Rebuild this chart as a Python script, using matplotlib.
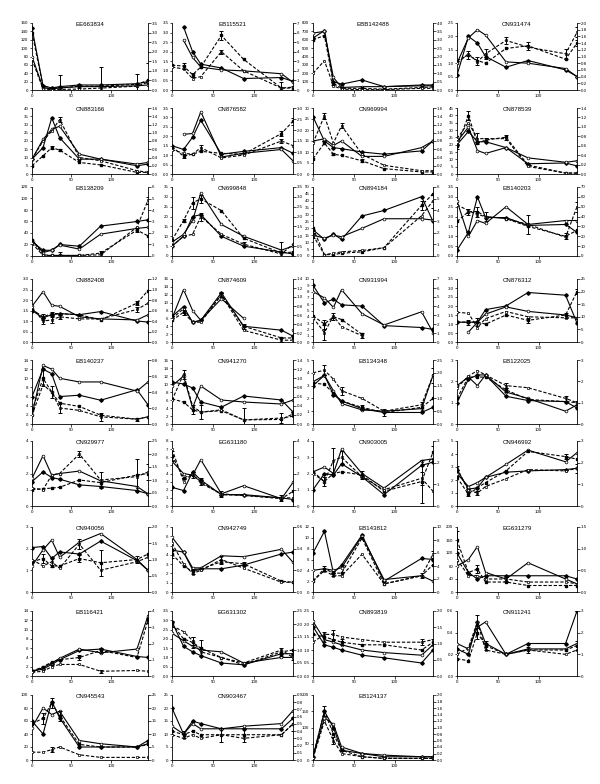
import numpy as np
import matplotlib.pyplot as plt

plt.rcParams['font.family'] = ['Liberation Sans', 'DejaVu Sans']

days = [0, 14, 25, 35, 60, 87, 133, 147]

names = ['EE663834', 'EB115521', 'EBB142488', 'CN931474',
         'CN883166', 'CN876582', 'CN969994', 'CN878539',
         'EB138209', 'CN699848', 'CN894184', 'EB140203',
         'CN882408', 'CN874609', 'CN931994', 'CN876312',
         'EB140237', 'CN941270', 'EB134348', 'EB122025',
         'CN929977', 'EG631180', 'CN903005', 'CN946992',
         'CN940056', 'CN942749', 'EB143812', 'EG631279',
         'EB116421', 'EG631302', 'CN893819', 'CN911241',
         'CN945543', 'CN903467', 'EB124137']

# left axis (solid lines) and right axis (dashed lines) ranges
left_top = [160, 3.5, 800, 2.5, 40, 3.5, 30, 45, 120, 35, 50, 3.5, 3.0, 16, 10, 3.5,
            14, 16, 5, 3, 4, 8, 4, 5, 3, 7, 12, 200, 14, 3.5, 2.5, 0.6, 100, 25, 200]
left_step = [20, 0.5, 100, 0.5, 5, 0.5, 5, 5, 20, 5, 5, 0.5, 0.5, 2, 1, 0.5,
             2, 2, 1, 1, 1, 1, 1, 1, 1, 1, 2, 40, 2, 0.5, 0.5, 0.2, 20, 5, 50]
right_top = [3.5, 7, 4.0, 2.0, 1.6, 3.0, 1.6, 1.4, 6, 3.5, 6, 70, 1.2, 1.4, 7, 25,
             0.8, 1.4, 2.5, 3, 2.5, 4, 3, 3, 2.0, 0.6, 10, 1.5, 4, 2.5, 2.0, 3, 25, 0.9, 2.0]
right_step = [0.5, 1, 0.5, 0.2, 0.2, 0.5, 0.2, 0.2, 1, 0.5, 1, 10, 0.2, 0.2, 1, 5,
              0.2, 0.2, 0.5, 1, 0.5, 1, 1, 1, 0.5, 0.2, 2, 0.5, 1, 0.5, 0.5, 1, 5, 0.1, 0.2]

N = None
solid_filled = [
    [148, 10, 5, 8, 12, 12, 15, 20],
    [N, 3.3, 2.0, 1.35, 1.15, 0.6, 0.65, 0.45],
    [620, 710, 100, 70, 120, 40, 60, 60],
    [0.55, 2.0, 1.75, 1.25, 0.85, 1.1, 0.75, 0.5],
    [9, 16, 34, 22, 9, 9, 5, 6],
    [1.5, 1.3, 1.95, 2.85, 1.05, 1.2, 1.4, 1.1],
    [26, 15, 12, 11.5, 10, 9, 10.5, 15],
    [20, 29, 22, 22, 18, 7, 7.5, 5.5],
    [25, 10, 10, 20, 17, 52, 60, 63],
    [5, 10, 20, 21, 10, 5, 2, 1],
    [19, 12, 16, 12, 29, 33, 43, 25],
    [0.3, 1.2, 3.0, 1.95, 1.95, 1.55, 1.6, 1.2],
    [1.5, 1.15, 1.3, 1.35, 1.3, 1.45, 1.0, 0.95],
    [6.5, 9, 5, 5.5, 12.5, 4, 3, 1.5],
    [9, 6.2, 6.8, 5.9, 5.7, 2.6, 2.3, 2.0],
    [1.1, 1.1, 1.1, 1.8, 2.0, 2.75, 2.6, 1.05],
    [6, 12, 11, 6, 6.3, 5.2, 7.5, 4.2],
    [10.5, 10, 9, 5.5, 4.2, 7, 6, 3],
    [3.0, 3.8, 2.3, 1.8, 1.2, 0.9, 0.9, 1.3],
    [1.0, 2.1, 2.3, 2.3, 1.3, 1.1, 1.05, 0.75],
    [1.5, 2.1, 1.75, 1.65, 1.3, 1.2, 0.95, 0.75],
    [2.3, 1.9, 4.2, 3.2, 1.4, 1.4, 1.0, 0.8],
    [1.0, 2.0, 1.9, 2.6, 1.8, 0.7, 2.5, 2.7],
    [2.8, 1.3, 1.4, 2.2, 2.6, 2.7, 2.8, 2.9],
    [2.05, 2.1, 1.55, 1.85, 1.75, 2.35, 1.45, 1.0],
    [4.5, 4.3, 2.4, 2.5, 2.5, 2.9, 4.1, 4.3],
    [7.2, 11.2, 3.5, 5.0, 10.5, 2.0, 6.2, 6.0],
    [120, 60, 40, 50, 50, 50, 50, 40],
    [1, 1.5, 2.5, 3.5, 5.5, 5.8, 4.2, 4.0],
    [2.9, 1.6, 1.3, 1.1, 0.7, 0.6, 1.2, 1.2],
    [1.9, 1.2, 1.1, 1.0, 0.8, 0.7, 0.5, 1.0],
    [0.25, 0.2, 0.5, 0.3, 0.2, 0.3, 0.3, 0.6],
    [60, 40, 90, 65, 20, 20, 20, 30],
    [20, 10, 15, 14, 12, 12, 12, 16],
    [10, 150, 100, 30, 20, 10, 10, 10],
]
solid_open = [
    [80, 5, 3, 5, 8, 8, 10, 12],
    [N, 2.6, 1.7, 1.2, 1.05, 1.0, 0.85, 0.4],
    [680, 700, 150, 30, 40, 40, 50, 50],
    [1.0, 1.95, 2.25, 2.05, 1.05, 1.0, 0.8, 0.5],
    [9, 21, 27, 29, 12, 9, 6, 7],
    [N, 2.1, 2.15, 3.3, 0.9, 1.1, 1.3, 0.7],
    [15, 16, 13, 15, 8, 8, 12, 15],
    [22, 32, 16, 14, 18, 11, 8, 9],
    [28, 6, 10, 19, 12, 38, 48, 50],
    [7, 11, 18, 32, 16, 10, 3, 5],
    [15, 13, 15, 14, 20, 27, 27, 26],
    [2.8, 1.0, 1.8, 1.65, 2.5, 1.6, 1.8, 1.8],
    [1.7, 2.4, 1.75, 1.7, 1.2, 1.1, 1.05, 1.3],
    [6, 13.3, 8, 5.5, 11, 6, N, 3],
    [8, 7, 5.5, 8.3, 4.5, 2.7, 4.8, 1.5],
    [N, 0.55, 1.1, 1.55, 1.95, 1.7, 1.5, 1.35],
    [2, 12.8, 12, 10, 9.2, 9.2, 7.2, 9.2],
    [9.5, 12, 4, 9.5, 6, 5.5, 5, 6],
    [3.3, 3.8, 2.6, 1.6, 1.1, 1.0, 1.2, 3.8],
    [1.8, 2.2, 1.8, 2.3, 1.5, 1.2, 0.6, 0.9],
    [1.7, 3.1, 1.9, 2.0, 2.15, 1.55, 1.2, 0.75],
    [5.5, 4.0, 3.8, 5.7, 1.5, 2.5, 0.9, 2.9],
    [2.1, 2.4, 2.0, 3.5, 2.0, 1.1, 2.8, 2.9],
    [2.5, 1.5, 1.8, 2.2, 3.2, 4.3, 3.4, 4.1],
    [1.2, 1.95, 2.4, 1.6, 2.3, 2.7, 1.5, 1.0],
    [5.9, 4.3, 2.6, 2.6, 3.9, 3.8, 4.6, 3.2],
    [4.0, 4.3, 4.0, 4.5, 10.3, 2.3, 3.0, 2.0],
    [80, 100, 140, 60, 40, 90, 40, 25],
    [1, 1.8, 2.8, 3.8, 5.8, 5.0, 5.8, 13],
    [2.3, 1.9, 1.6, 1.4, 1.3, 0.7, 1.0, 1.0],
    [2.1, 1.4, 1.3, 1.2, 1.0, 0.9, 0.8, 1.2],
    [0.3, 0.25, 0.45, 0.5, 0.2, 0.25, 0.25, 0.3],
    [50, 80, 70, 75, 30, 25, 20, 25],
    [13, 10, 14, 12, 12, 13, 14, 19],
    [10, 130, 110, 40, 20, 15, 10, 10],
]
dashed_filled = [
    [3.0, 0.2, 0.1, 0.1, 0.2, 0.2, 0.3, 0.5],
    [2.6, 2.5, 1.6, 2.4, 5.7, 3.2, 0.2, 0.2],
    [3.0, 3.25, 0.4, 0.1, 0.1, 0.05, 0.15, 0.18],
    [0.88, 1.04, 0.88, 0.8, 1.24, 1.32, 0.92, 1.4],
    [0.2, 0.44, 0.64, 0.58, 0.28, 0.22, 0.04, 0.04],
    [1.24, 0.81, 0.9, 1.03, 0.94, 0.9, 1.84, 2.4],
    [0.37, 0.75, 0.48, 0.45, 0.32, 0.13, 0.05, 0.05],
    [0.59, 1.24, 0.65, 0.72, 0.78, 0.19, 0.02, 0.02],
    [1.4, 0.1, 0.05, 0.05, 0.05, 0.25, 2.25, 1.75],
    [0.8, 1.8, 2.7, 2.9, 2.3, 0.9, 0.15, 0.2],
    [2.4, 0.12, 0.12, 0.24, 0.36, 0.72, 4.4, 5.4],
    [35, 45, 45, 40, 38, 30, 20, 26],
    [0.62, 0.48, 0.54, 0.54, 0.52, 0.42, 0.74, 0.98],
    [0.48, 0.66, 0.44, 0.48, 1.05, 0.35, 0.09, 0.09],
    [2.9, 2.0, 2.8, 2.5, 0.85, N, N, N],
    [7.9, 7.9, 7.9, 7.1, 10.7, 8.6, 10.7, 20],
    [0.17, 0.57, 0.4, 0.26, 0.22, 0.11, 0.06, 0.09],
    [0.55, 0.48, 0.31, 0.26, 0.29, 0.09, 0.1, 0.22],
    [1.6, 1.55, 1.2, 0.9, 0.65, 0.45, 0.65, 1.0],
    [1.2, 2.2, 2.2, 2.2, 1.6, 1.15, 1.05, 1.0],
    [0.63, 0.66, 0.69, 0.72, 1.0, 0.9, 1.19, 1.25],
    [3.1, 1.75, 1.9, 1.5, 0.7, 0.65, 0.45, 0.9],
    [1.58, 1.13, 1.5, 1.58, 1.43, 0.68, 1.13, 2.48],
    [1.32, 0.54, 0.84, 1.08, 1.62, 2.52, 2.28, 2.16],
    [0.93, 1.03, 0.8, 0.8, 1.03, 0.9, 1.0, 1.17],
    [0.35, 0.24, 0.19, 0.21, 0.28, 0.26, 0.1, 0.09],
    [1.7, 3.6, 2.9, 2.9, 8.3, 1.25, 2.5, 4.2],
    [1.2, 0.45, 0.53, 0.23, 0.23, 0.15, 0.15, 0.15],
    [0.29, 0.57, 0.86, 1.0, 1.14, 1.57, 1.14, 3.43],
    [2.0, 1.43, 1.29, 1.07, 0.71, 0.43, 0.93, 1.0],
    [1.28, 1.2, 1.12, 1.04, 0.96, 0.96, 0.8, 1.04],
    [0.8, 0.7, 2.0, 1.4, 1.0, 1.2, 1.2, 1.4],
    [14, 16, 22, 17, 6, 5, 5, 6],
    [0.4, 0.35, 0.4, 0.35, 0.35, 0.35, 0.35, 0.5],
    [0.1, 1.5, 0.8, 0.3, 0.1, 0.05, 0.05, 0.05],
]
dashed_open = [
    [1.6, 0.05, 0.02, 0.03, 0.05, 0.1, 0.2, 0.4],
    [2.4, 2.2, 1.2, 1.4, 4.0, 2.0, 0.2, 0.3],
    [1.0, 1.75, 0.25, 0.05, 0.02, 0.02, 0.1, 0.1],
    [0.8, 1.08, 0.84, 1.08, 1.48, 1.28, 1.08, 1.72],
    [0.36, 0.8, 1.04, 1.32, 0.4, 0.32, 0.08, 0.04],
    [1.11, 0.94, 0.9, 1.2, 0.73, 0.86, 1.5, 1.29],
    [0.75, 1.41, 0.75, 1.17, 0.48, 0.21, 0.08, 0.08],
    [0.75, 1.09, 0.75, 0.75, 0.75, 0.16, 0.02, 0.02],
    [1.1, 0.05, 0.05, 0.05, 0.05, 0.1, 2.5, 4.85],
    [0.5, 1.0, 1.1, 2.0, 1.1, 0.6, 0.1, 0.6],
    [1.8, 0.12, 0.24, 0.36, 0.48, 0.72, 3.5, 4.8],
    [52, 46, 42, 40, 38, 32, 19, 50],
    [0.66, 0.4, 0.42, 0.48, 0.44, 0.44, 0.62, 0.74],
    [0.52, 0.74, 0.44, 0.44, 1.05, 0.26, 0.04, 0.04],
    [2.7, 1.05, 2.9, 1.7, 0.7, N, N, N],
    [11.8, 11.4, 5.7, 9.3, 12.1, 10, 9.6, 9.6],
    [0.11, 0.49, 0.4, 0.2, 0.17, 0.09, 0.06, 0.09],
    [0.52, 1.09, 0.39, 0.26, 0.31, 0.09, 0.13, 0.17],
    [2.0, 2.1, 1.75, 1.3, 1.0, 0.5, 0.75, 1.9],
    [1.7, 2.25, 2.5, 2.3, 1.8, 1.7, 1.2, 1.0],
    [0.69, 0.63, 1.19, 1.25, 2.0, 1.0, 1.13, 1.31],
    [3.5, 1.5, 2.0, 1.4, 0.75, 0.65, 0.5, 0.5],
    [1.5, 1.13, 2.1, 2.25, 1.35, 0.75, 1.28, 0.68],
    [1.74, 0.72, 0.6, 0.9, 1.26, 1.68, 1.62, 1.74],
    [1.0, 0.8, 0.93, 0.73, 1.47, 0.67, 0.93, 1.07],
    [0.45, 0.26, 0.17, 0.2, 0.3, 0.22, 0.09, 0.09],
    [1.7, 3.3, 2.5, 2.5, 5.8, 1.25, 2.5, 5.8],
    [0.75, 0.38, 0.38, 0.3, 0.3, 0.23, 0.23, 0.19],
    [0.23, 0.29, 0.57, 0.71, 0.71, 0.29, 0.34, 0.29],
    [1.93, 1.71, 1.36, 0.93, 0.71, 0.5, 1.0, 0.71],
    [1.04, 1.28, 1.28, 1.2, 1.12, 1.04, 1.04, 1.12],
    [1.0, 1.3, 2.5, 1.2, 1.0, 1.2, 1.0, 1.2],
    [3, 3, 4, 5, 2, 1, 1, 1],
    [0.35, 0.3, 0.35, 0.3, 0.35, 0.3, 0.35, 0.5],
    [0.05, 1.2, 0.6, 0.2, 0.1, 0.05, 0.05, 0.05],
]
# (series: 0 = dashed filled, 1 = dashed open, point index, error) per panel
error_bars = [
    [(1, 3, 0.75), (1, 5, 1.1), (1, 6, 0.65), (0, 7, 0.9), (0, 4, 0.1)],
    [(0, 1, 0.3), (0, 2, 0.2), (0, 4, 0.5), (1, 4, 0.2), (1, 6, 0.6), (0, 7, 0.2)],
    [(0, 2, 0.1)],
    [(0, 1, 0.12), (0, 2, 0.12), (1, 3, 0.15), (1, 4, 0.1), (0, 5, 0.12), (1, 6, 0.15), (1, 7, 0.15), (0, 7, 0.1)],
    [(1, 3, 0.06), (0, 2, 0.03), (0, 3, 0.03)],
    [(0, 1, 0.1), (1, 3, 0.1), (0, 6, 0.1), (0, 7, 0.15), (1, 6, 0.1)],
    [(1, 1, 0.08), (1, 3, 0.06), (0, 2, 0.03), (0, 4, 0.04)],
    [(0, 1, 0.1), (1, 2, 0.12), (0, 3, 0.04), (0, 4, 0.05), (0, 0, 0.05)],
    [(1, 3, 0.3), (1, 5, 0.3), (0, 6, 0.2), (1, 7, 0.3)],
    [(0, 2, 0.3), (0, 3, 0.2), (1, 3, 0.2), (0, 1, 0.1), (1, 6, 0.6), (1, 5, 0.1)],
    [(0, 6, 0.4), (1, 7, 0.6), (1, 0, 0.2)],
    [(0, 1, 3), (0, 2, 5), (0, 3, 5), (1, 5, 10), (0, 6, 3), (1, 7, 5)],
    [(0, 1, 0.06), (1, 1, 0.06), (0, 2, 0.04), (1, 2, 0.05), (1, 3, 0.04), (1, 6, 0.04), (0, 6, 0.04)],
    [(0, 1, 0.05), (0, 4, 0.06), (1, 4, 0.05), (0, 5, 0.05), (1, 6, 0.04)],
    [(0, 1, 0.5), (1, 1, 0.8), (0, 2, 0.4), (1, 4, 0.3)],
    [(0, 1, 1), (0, 2, 1.5), (0, 5, 1), (0, 6, 1), (0, 7, 1)],
    [(0, 1, 0.1), (0, 2, 0.08), (1, 3, 0.06), (1, 5, 0.05), (1, 6, 0.02)],
    [(1, 1, 0.1), (0, 2, 0.1), (1, 3, 0.15), (1, 5, 0.25), (1, 6, 0.1), (0, 7, 0.05)],
    [(1, 1, 0.2), (1, 3, 0.15), (0, 4, 0.1), (0, 5, 0.15), (0, 6, 0.2), (1, 7, 0.3)],
    [(0, 4, 0.1), (1, 4, 0.1), (1, 6, 0.1), (0, 7, 0.1)],
    [(1, 4, 0.1), (1, 5, 0.3), (0, 6, 0.6), (1, 7, 0.3)],
    [(0, 0, 0.3), (0, 2, 0.2), (0, 3, 0.2), (1, 4, 0.2), (1, 6, 0.2)],
    [(0, 1, 0.2), (1, 2, 0.6), (1, 3, 0.3), (0, 4, 0.2), (0, 6, 1.0), (1, 6, 0.3), (0, 7, 0.3)],
    [(1, 0, 0.1), (0, 1, 0.1), (1, 2, 0.1), (0, 6, 0.1), (1, 7, 0.2)],
    [(0, 1, 0.15), (1, 2, 0.15), (0, 4, 0.1), (1, 4, 0.15), (0, 5, 0.4), (0, 6, 0.1)],
    [(0, 0, 0.04), (0, 2, 0.02), (0, 4, 0.02), (1, 4, 0.03), (0, 5, 0.02)],
    [(0, 1, 0.4), (0, 2, 0.4), (1, 6, 0.4), (1, 7, 0.5)],
    [(0, 0, 0.2), (0, 2, 0.1), (1, 4, 0.05)],
    [(0, 4, 0.15), (0, 5, 0.15), (1, 5, 0.1), (0, 7, 0.15)],
    [(0, 0, 0.1), (0, 2, 0.2), (1, 2, 0.15), (0, 3, 0.3), (0, 6, 0.15), (1, 7, 0.1)],
    [(0, 1, 0.15), (1, 2, 0.15), (0, 3, 0.1), (1, 6, 0.1), (0, 7, 0.1)],
    [(0, 2, 0.3), (1, 2, 0.3), (0, 3, 0.2), (1, 5, 0.15), (0, 7, 0.2)],
    [(0, 1, 2), (0, 2, 2), (0, 3, 2), (1, 2, 1)],
    [(0, 1, 0.05), (0, 4, 0.1), (0, 5, 0.1), (0, 7, 0.1)],
    [(0, 1, 0.15), (1, 2, 0.1)],
]

# panel layout in pixels
col_left = [32, 172, 313, 457]
col_width = [116, 121, 120, 120]
row_top = [23, 108, 187, 279, 360, 441, 527, 611, 695]
row_bottom = [90, 174, 256, 342, 424, 506, 592, 676, 760]

FS = 3.2
DASH = (0, (3, 1.6))


def to_arr(v):
    return np.array([np.nan if a is None else a for a in v], dtype=float)


def fmt_ticks(ax, top, step):
    ticks = np.arange(0, top + step / 2, step)
    if step < 1:
        labels = ['%.1f' % t for t in ticks]
    else:
        labels = ['%d' % t for t in ticks]
    ax.set_ylim(0, top)
    ax.set_yticks(ticks)
    ax.set_yticklabels(labels)


def style(ax):
    ax.tick_params(direction='out', length=1.8, width=0.5, labelsize=FS, pad=0.8)
    for s in ax.spines.values():
        s.set_linewidth(0.6)


fig = plt.figure(figsize=(6, 7.84), dpi=100)
x = np.array(days, dtype=float)

for i, name in enumerate(names):
    r, c = divmod(i, 4)
    ax = fig.add_axes([col_left[c] / 600, 1 - row_bottom[r] / 784,
                       col_width[c] / 600, (row_bottom[r] - row_top[r]) / 784])
    ax2 = ax.twinx()

    ax.plot(x, to_arr(solid_filled[i]), '-', color='k', lw=0.8,
            marker='D', ms=1.8, mfc='k', mec='k', zorder=3)
    ax.plot(x, to_arr(solid_open[i]), '-', color='k', lw=0.8,
            marker='o', ms=2.0, mfc='white', mec='k', mew=0.5, zorder=3)

    dashed = [to_arr(dashed_filled[i]), to_arr(dashed_open[i])]
    ax2.plot(x, dashed[0], linestyle=DASH, color='k', lw=0.8,
             marker='s', ms=2.0, mfc='k', mec='k')
    ax2.plot(x, dashed[1], linestyle=DASH, color='k', lw=0.8,
             marker='s', ms=2.0, mfc='white', mec='k', mew=0.5)
    for s, j, e in error_bars[i]:
        ax2.errorbar(x[j], dashed[s][j], yerr=e, fmt='none', ecolor='k',
                     elinewidth=0.7, capsize=1.6, capthick=0.7)

    ax.set_xlim(0, 147)
    ax.set_xticks([0, 50, 100])
    fmt_ticks(ax, left_top[i], left_step[i])
    fmt_ticks(ax2, right_top[i], right_step[i])
    ax.spines['top'].set_visible(False)
    ax.spines['right'].set_visible(False)
    ax2.spines['top'].set_visible(False)
    ax2.spines['left'].set_visible(False)
    ax2.spines['bottom'].set_visible(False)
    style(ax)
    style(ax2)
    ax.text(0.5, 1.02, name, transform=ax.transAxes, ha='center', va='top',
            fontsize=4.4)

fig.savefig('out.png', dpi=100)
